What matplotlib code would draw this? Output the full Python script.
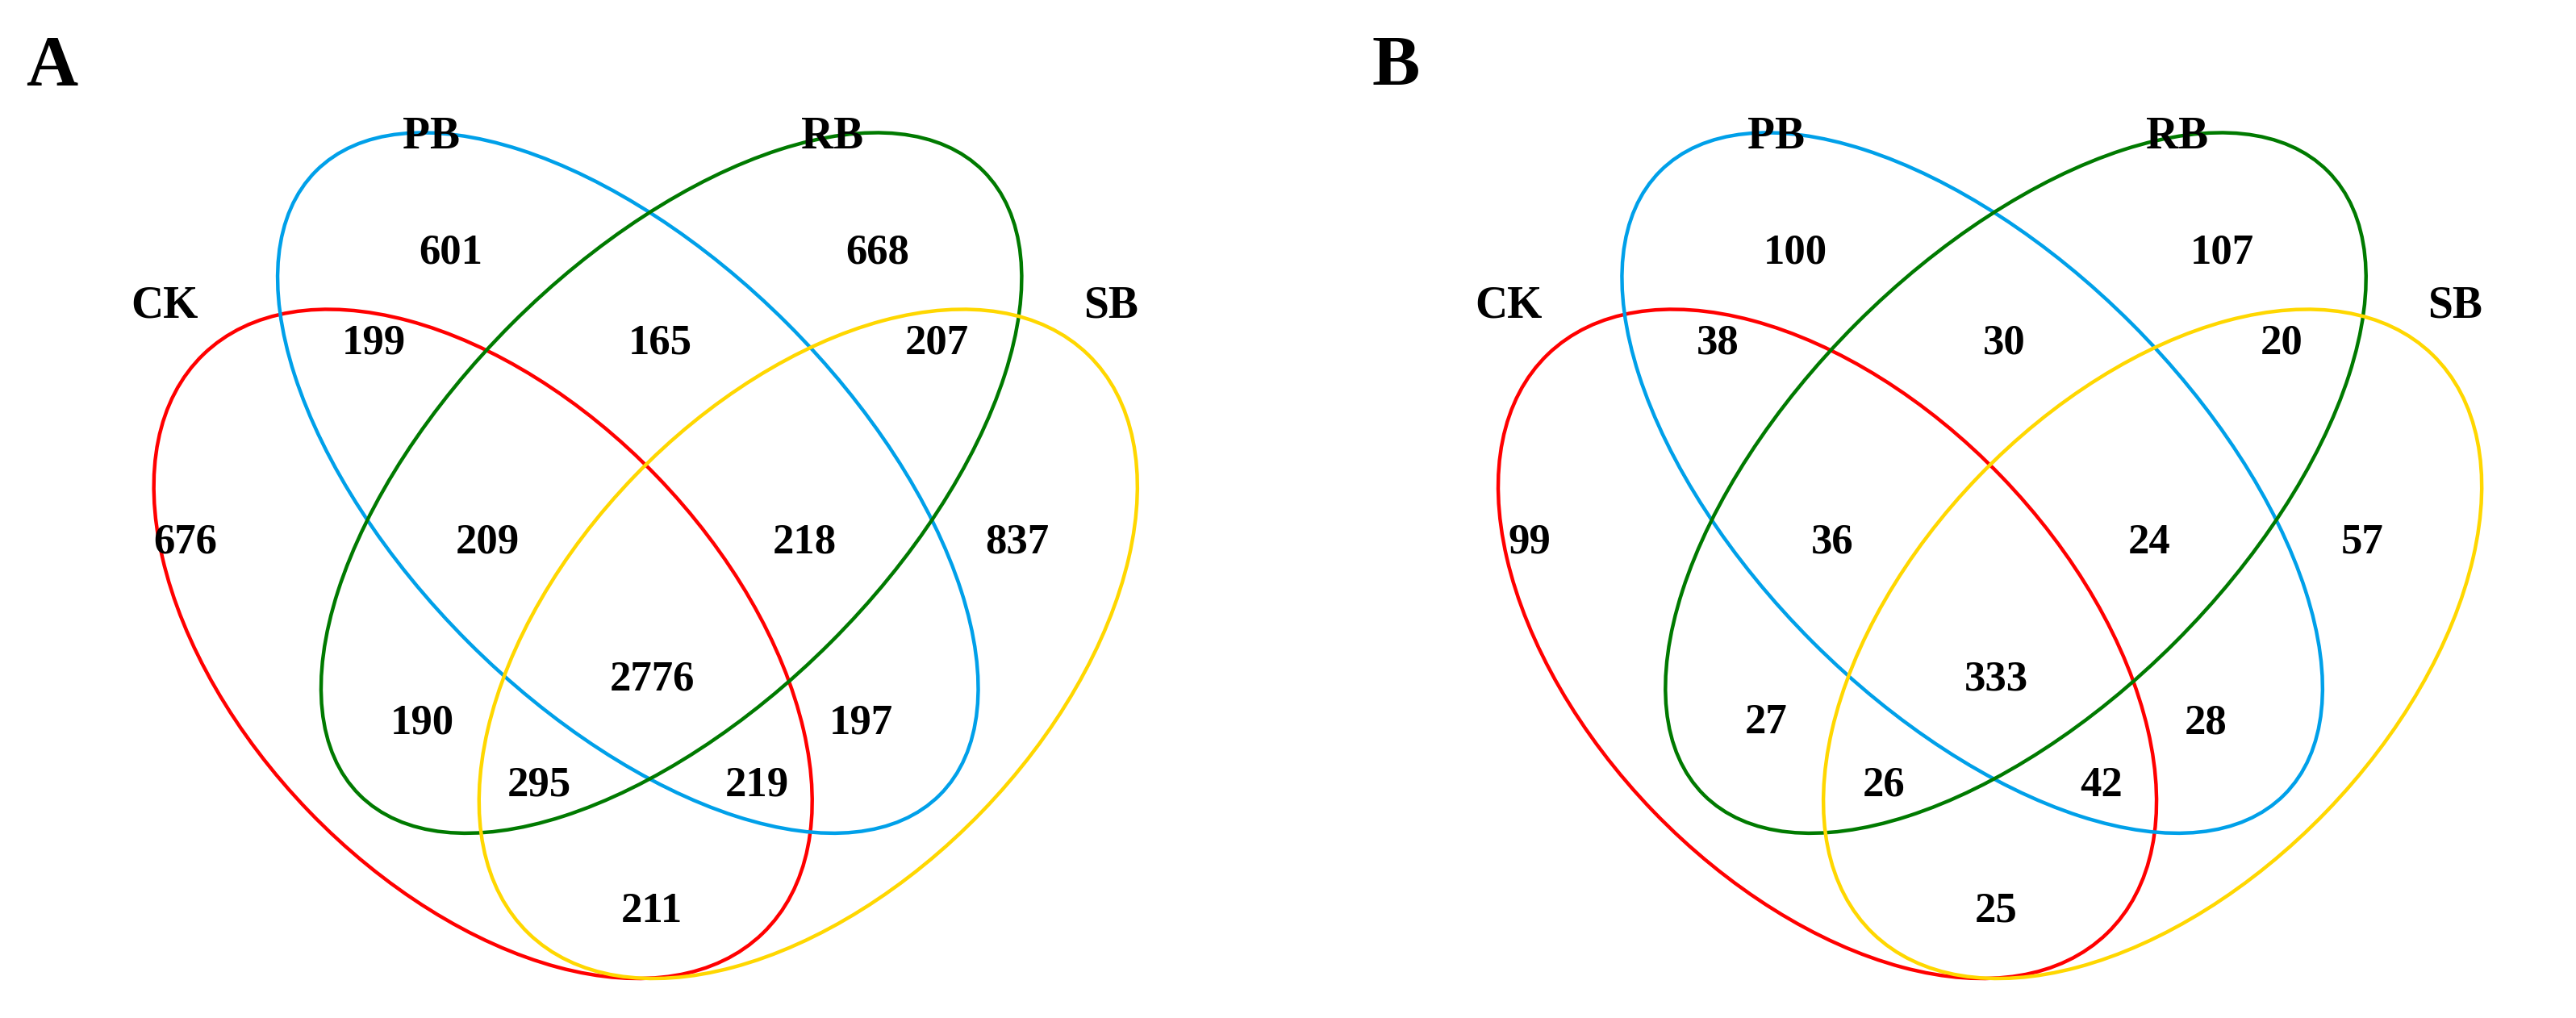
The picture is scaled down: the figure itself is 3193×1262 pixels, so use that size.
import matplotlib
matplotlib.use("Agg")
import matplotlib.pyplot as plt
from matplotlib.patches import Ellipse

panels = ["A", "B"]
set_names = ["CK", "PB", "RB", "SB"]
values_A = [601, 668, 199, 165, 207, 676, 209, 218, 837, 2776, 190, 197, 295, 219, 211]
values_B = [100, 107, 38, 30, 20, 99, 36, 24, 57, 333, 27, 28, 26, 42, 25]

# layout (in half-resolution pixel units)
S = 3193 / 1600.0
region_pos = [(280,157),(545,157),(232,213),(410,213),(582,213),(115,337),(303,337),
              (500,337),(632,337),(405,422),(262,449),(535,449),(335,488),(470,488),(405,566)]
label_pos = [(102,190),(268,85),(517,85),(690,190)]
ellipses = [((300,400),500,300,46,"#FF0000"),((390,300),548,280,45,"#00A0E9"),
            ((417,300),548,280,-45,"#007A00"),((502,400),500,300,-46,"#FFD700")]
offsets = [0, 835]

fig = plt.figure(figsize=(31.93, 12.62), dpi=100)
ax = fig.add_axes([0, 0, 1, 1])
ax.set_xlim(0, 3193); ax.set_ylim(1262, 0); ax.axis("off")
font = dict(family="Liberation Serif", fontweight="bold", ha="center", va="center")

for p, vals, dx in zip(panels, [values_A, values_B], offsets):
    ax.text((32+dx)*S, 42*S, p, fontsize=64, **font)
    for (c, w, h, ang, col) in ellipses:
        ax.add_patch(Ellipse(((c[0]+dx)*S, c[1]*S), w*S, h*S, angle=ang,
                             fill=False, edgecolor=col, lw=3.2))
    for name, (x, y) in zip(set_names, label_pos):
        ax.text((x+dx)*S, y*S, name, fontsize=40, **font)
    for v, (x, y) in zip(vals, region_pos):
        ax.text((x+dx)*S, y*S, str(v), fontsize=38, **font)

fig.savefig("out.png", dpi=100)
